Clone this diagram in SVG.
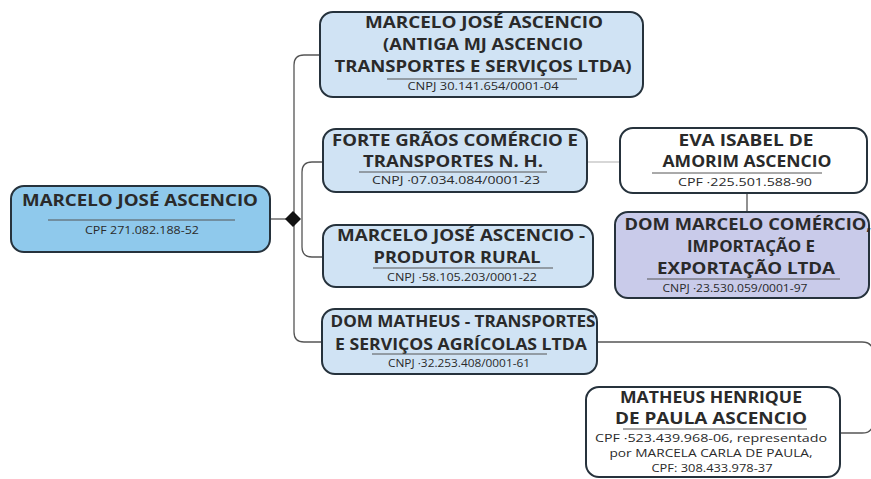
<svg xmlns="http://www.w3.org/2000/svg" width="871" height="479" viewBox="0 0 871 479">
<style>
.box{stroke:#26323c;stroke-width:2}
.root{fill:#8fc9ec}
.blue{fill:#d0e3f4}
.lav{fill:#c9cbea}
.white{fill:#ffffff}
.t{font-family:"Open Sans","Liberation Sans",sans-serif;font-weight:bold;font-size:16px;fill:#2a2a2a;text-anchor:middle}
.s{font-family:"Open Sans","Liberation Sans",sans-serif;font-size:11px;fill:#2a2a2a;text-anchor:middle}
.sep{stroke:#555;stroke-width:1}
.c{fill:none;stroke:#555;stroke-width:1.3}
.cl{fill:none;stroke:#b0b0b0;stroke-width:1.2}
</style>
<rect width="871" height="479" fill="#ffffff"/>
<g id="connectors">
<path class="c" d="M270 219 H293"/>
<path class="c" d="M320 55 H304 Q294 55 294 65 V332 Q294 342 304 342 H322"/>
<path class="c" d="M323 162 H312 Q302 162 302 172 V247 Q302 257 312 257 H323"/>
<path class="cl" d="M587 162 H620"/>
<path class="c" d="M747 193 V212"/>
<path class="c" d="M597 342 H862 Q873 342 873 353 V422 Q873 433 862 433 H840"/>
<polygon points="293,211 301,219 293,227 285,219" fill="#111"/>
</g>
<g id="root">
<rect class="box root" x="11" y="186" width="259" height="66" rx="13"/>
<text class="t" x="140" y="206" textLength="236" lengthAdjust="spacingAndGlyphs">MARCELO JOSÉ ASCENCIO</text>
<line class="sep" x1="48" y1="220" x2="235" y2="220"/>
<text class="s" x="142" y="234" textLength="114" lengthAdjust="spacingAndGlyphs">CPF 271.082.188-52</text>
</g>
<g id="n1">
<rect class="box blue" x="320" y="12" width="323" height="85" rx="13"/>
<text class="t" x="484" y="28" textLength="238" lengthAdjust="spacingAndGlyphs">MARCELO JOSÉ ASCENCIO</text>
<text class="t" x="483" y="50" textLength="200" lengthAdjust="spacingAndGlyphs">(ANTIGA MJ ASCENCIO</text>
<text class="t" x="483" y="72" textLength="297" lengthAdjust="spacingAndGlyphs">TRANSPORTES E SERVIÇOS LTDA)</text>
<line class="sep" x1="387" y1="79" x2="577" y2="79"/>
<text class="s" x="483" y="90" textLength="151" lengthAdjust="spacingAndGlyphs">CNPJ 30.141.654/0001-04</text>
</g>
<g id="n2">
<rect class="box blue" x="323" y="129" width="264" height="63" rx="13"/>
<text class="t" x="455" y="146" textLength="246" lengthAdjust="spacingAndGlyphs">FORTE GRÃOS COMÉRCIO E</text>
<text class="t" x="453" y="167" textLength="180" lengthAdjust="spacingAndGlyphs">TRANSPORTES N. H.</text>
<line class="sep" x1="359" y1="172" x2="547" y2="172"/>
<text class="s" x="456" y="184" textLength="168" lengthAdjust="spacingAndGlyphs">CNPJ ·07.034.084/0001-23</text>
</g>
<g id="eva">
<rect class="box white" x="620" y="128" width="247" height="65" rx="13"/>
<text class="t" x="746" y="146" textLength="135" lengthAdjust="spacingAndGlyphs">EVA ISABEL DE</text>
<text class="t" x="747" y="167" textLength="169" lengthAdjust="spacingAndGlyphs">AMORIM ASCENCIO</text>
<line class="sep" x1="652" y1="173" x2="822" y2="173"/>
<text class="s" x="745" y="186" textLength="134" lengthAdjust="spacingAndGlyphs">CPF ·225.501.588-90</text>
</g>
<g id="dommarcelo">
<rect class="box lav" x="615" y="212" width="254" height="86" rx="13"/>
<text class="t" x="748" y="230" textLength="247" lengthAdjust="spacingAndGlyphs">DOM MARCELO COMÉRCIO,</text>
<text class="t" x="751" y="252" textLength="128" lengthAdjust="spacingAndGlyphs">IMPORTAÇÃO E</text>
<text class="t" x="746" y="274" textLength="178" lengthAdjust="spacingAndGlyphs">EXPORTAÇÃO LTDA</text>
<line class="sep" x1="647" y1="279" x2="840" y2="279"/>
<text class="s" x="735" y="292" textLength="145" lengthAdjust="spacingAndGlyphs">CNPJ ·23.530.059/0001-97</text>
</g>
<g id="n3">
<rect class="box blue" x="323" y="225" width="270" height="62" rx="13"/>
<text class="t" x="461" y="241" textLength="248" lengthAdjust="spacingAndGlyphs">MARCELO JOSÉ ASCENCIO -</text>
<text class="t" x="457" y="263" textLength="167" lengthAdjust="spacingAndGlyphs">PRODUTOR RURAL</text>
<line class="sep" x1="373" y1="268" x2="553" y2="268"/>
<text class="s" x="462" y="281" textLength="150" lengthAdjust="spacingAndGlyphs">CNPJ ·58.105.203/0001-22</text>
</g>
<g id="n4">
<rect class="box blue" x="322" y="309" width="275" height="65" rx="13"/>
<text class="t" x="463" y="327" textLength="265" lengthAdjust="spacingAndGlyphs">DOM MATHEUS - TRANSPORTES</text>
<text class="t" x="461" y="350" textLength="252" lengthAdjust="spacingAndGlyphs">E SERVIÇOS AGRÍCOLAS LTDA</text>
<line class="sep" x1="372" y1="354" x2="547" y2="354"/>
<text class="s" x="459" y="367" textLength="142" lengthAdjust="spacingAndGlyphs">CNPJ ·32.253.408/0001-61</text>
</g>
<g id="matheus">
<rect class="box white" x="586" y="387" width="254" height="90" rx="13"/>
<text class="t" x="711" y="403" textLength="182" lengthAdjust="spacingAndGlyphs">MATHEUS HENRIQUE</text>
<text class="t" x="711" y="424" textLength="192" lengthAdjust="spacingAndGlyphs">DE PAULA ASCENCIO</text>
<line class="sep" x1="623" y1="429" x2="807" y2="429"/>
<text class="s" x="711" y="442" textLength="232" lengthAdjust="spacingAndGlyphs">CPF ·523.439.968-06, representado</text>
<text class="s" x="711" y="457" textLength="203" lengthAdjust="spacingAndGlyphs">por MARCELA CARLA DE PAULA,</text>
<text class="s" x="712" y="472" textLength="121" lengthAdjust="spacingAndGlyphs">CPF: 308.433.978-37</text>
</g>
</svg>
